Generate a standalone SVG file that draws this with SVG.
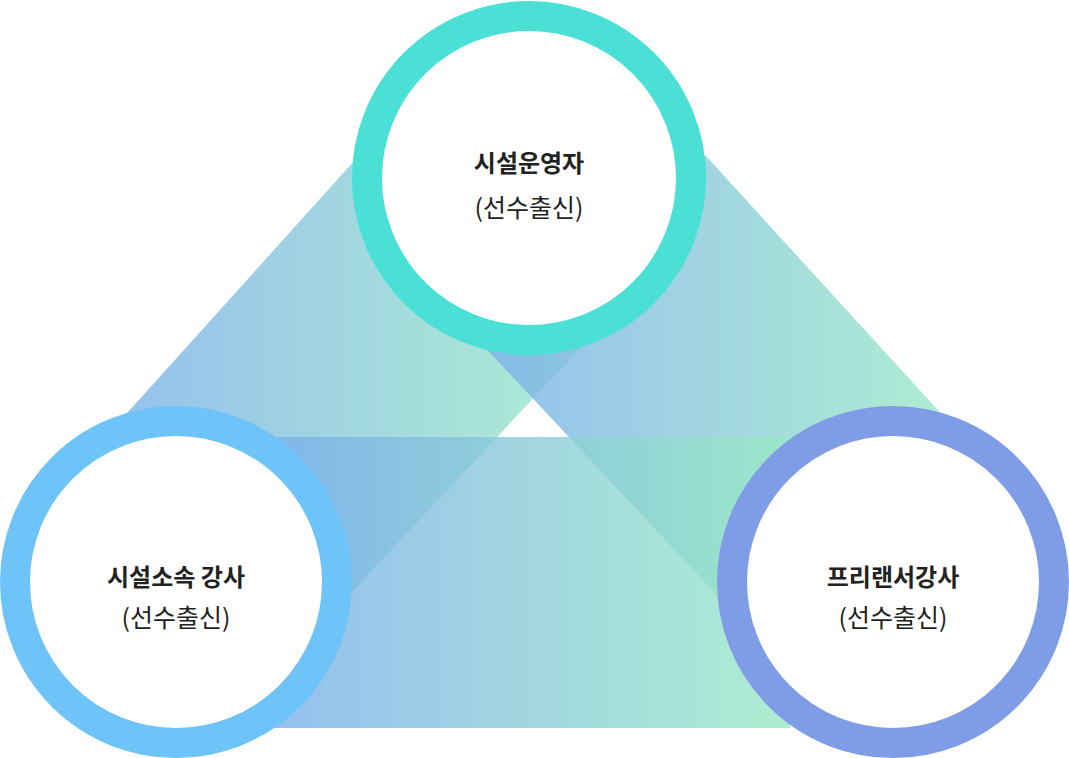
<svg xmlns="http://www.w3.org/2000/svg" width="1069" height="758" viewBox="0 0 1069 758">
<style>
.t{font-family:"Noto Sans CJK KR","Noto Sans",sans-serif;fill:#222;text-anchor:middle}
.b{font-size:24px;font-weight:700}
.r{font-size:25px;font-weight:400}
.band{opacity:0.8}
</style>
<defs>
<linearGradient id="g" x1="0" y1="0" x2="1" y2="0">
<stop offset="0" stop-color="#7ab0ea"/>
<stop offset="1" stop-color="#9ae9c6"/>
</linearGradient>
</defs>
<g id="connectors">
<polygon class="band" fill="url(#g)" points="355,160 588,340 290,658 110,432"/>
<polygon class="band" fill="url(#g)" points="705,155 478,340 776,658 958,432"/>
<rect class="band" fill="url(#g)" x="275" y="437" width="515" height="291"/>
</g>
<g id="top">
<circle cx="529" cy="178" r="162" fill="#fff" stroke="#4ae0d6" stroke-width="30"/>
<text class="t b" x="529" y="172">시설운영자</text>
<text class="t r" x="529" y="217">(선수출신)</text>
</g>
<g id="left">
<circle cx="176" cy="582" r="161" fill="#fff" stroke="#6ec3f8" stroke-width="30"/>
<text class="t b" x="176" y="586">시설소속 강사</text>
<text class="t r" x="176" y="627">(선수출신)</text>
</g>
<g id="right">
<circle cx="893" cy="582" r="161" fill="#fff" stroke="#7f9ce6" stroke-width="30"/>
<text class="t b" x="893" y="586">프리랜서강사</text>
<text class="t r" x="893" y="627">(선수출신)</text>
</g>
</svg>
